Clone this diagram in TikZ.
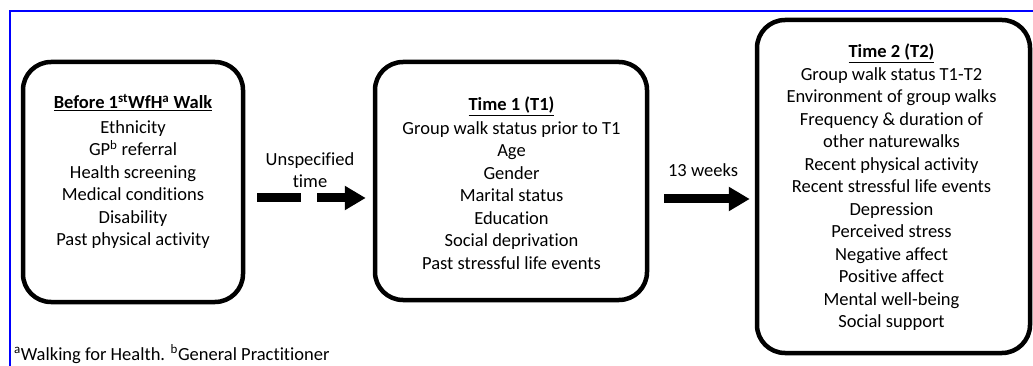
\documentclass[tikz,border=0pt]{standalone}
\usepackage{fontspec}
\setmainfont{Carlito}[Ligatures=NoCommon]
\usetikzlibrary{positioning}
\usetikzlibrary{arrows.meta}

\tikzset{
  stagebox/.style={draw, line width=4.5pt, rounded corners=28pt},
  stagetext/.style={align=center, font=\fontsize{18.5}{22.5}\selectfont},
  bigarrow/.style={line width=9pt, -{Triangle[length=21pt,width=23pt]}},
}

\begin{document}
\begin{tikzpicture}[x=1pt,y=-1pt]
\useasboundingbox (0,0) rectangle (1033,366);

% frame
\draw[blue, line width=2pt] (9.5,366) -- (9.5,11) -- (1033,11);

% boxes
\node[stagebox, minimum width=220pt, minimum height=240pt] (before) at (133,182) {};
\node[stagebox, minimum width=272pt, minimum height=238pt] (time1) at (511,181) {};
\node[stagebox, minimum width=273pt, minimum height=333pt] (time2) at (893.5,186.5) {};

\node[stagetext] (beforetext) at (133,171.5) {\underline{\textbf{Before 1\textsuperscript{st}WfH\textsuperscript{a} Walk}}\\[2pt]
  Ethnicity\\ GP\textsuperscript{b} referral\\ Health screening\\ Medical conditions\\
  Disability\\ Past physical activity};
\node[stagetext] (time1text) at (511.5,183) {\underline{\textbf{Time 1 (T1)}}\\[1pt]
  Group walk status prior to T1\\ Age\\ Gender\\ Marital status\\ Education\\
  Social deprivation\\ Past stressful life events};
\node[stagetext] (time2text) at (891.5,187.5) {\underline{\textbf{Time 2 (T2)}}\\
  Group walk status T1-T2\\ Environment of group walks\\ Frequency \& duration of\\
  other naturewalks\\ Recent physical activity\\ Recent stressful life events\\
  Depression\\ Perceived stress\\ Negative affect\\ Positive affect\\
  Mental well-being\\ Social support};

% arrows
\draw[bigarrow, dash pattern=on 44pt off 16pt on 200pt off 0pt,
  shorten <=12pt, shorten >=7pt]
  ([yshift=-16pt]before.east) -- ([yshift=-16pt]before.east -| time1.west);
\draw[bigarrow, shorten <=15pt, shorten >=5pt]
  ([yshift=-18pt]time1.east) -- ([yshift=-18pt]time1.east -| time2.west);

\node[stagetext] (gap1) at (310,170) {Unspecified\\time};
\node[stagetext, anchor=base] (gap2) at (703,177) {13 weeks};

% footnote
\node[stagetext, anchor=base west, inner sep=0pt] (notes) at (14,360)
  {\textsuperscript{a}Walking for Health. \textsuperscript{b}General Practitioner};
\end{tikzpicture}
\end{document}
